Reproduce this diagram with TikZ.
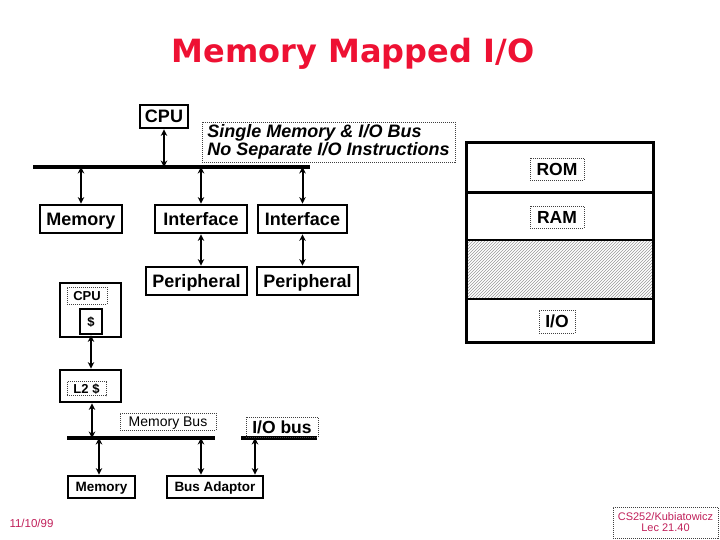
\documentclass[tikz,border=0pt]{standalone}
\usepackage{fontspec}
\setmainfont{Liberation Sans}
\newfontfamily\titlefont{DejaVu Sans}
\usetikzlibrary{arrows.meta,patterns}
\definecolor{titlered}{HTML}{EE1133}
\definecolor{footred}{HTML}{C0205A}
\newcommand{\fs}[1]{\fontsize{#1}{#1}\selectfont}
\tikzset{
  thickbox/.style={draw, line width=2.8pt, inner sep=0pt, font=\bfseries\fs{18}, text height=13pt, text depth=0pt},
  smallbox/.style={thickbox, font=\bfseries\fs{13.5}, text height=9.7pt},
  dotbox/.style={draw=black!75, line width=0.8pt, dash pattern=on 1pt off 1pt, inner sep=0pt},
  caplbl/.style={dotbox, font=\bfseries\fs{17.5}, text height=12.6pt, text depth=0pt},
  smalllbl/.style={dotbox, font=\bfseries\fs{13}, text height=9.4pt, text depth=0pt},
  busline/.style={line width=4pt},
  arr/.style={{Stealth[length=6.5pt,width=6.5pt]}-{Stealth[length=6.5pt,width=6.5pt]}, line width=2pt},
}
\begin{document}
\begin{tikzpicture}[x=1pt,y=-1pt]
\useasboundingbox (0,0) rectangle (720,540);
% title
\node[font=\titlefont\bfseries\fs{32}, text=titlered] (title) at (353,54) {Memory Mapped I/O};

% top bus
\coordinate (busL) at (33,167);
\coordinate (busR) at (310,167);
\draw[busline] (busL) -- (busR);

\node[thickbox, minimum width=48pt, minimum height=23pt] (cpu) at (164,116.5) {CPU};
\node[dotbox, minimum width=253pt, minimum height=40pt, align=left, font=\bfseries\itshape\fs{18}] (lbl) at (328.5,142) {Single Memory \& I/O Bus\\No Separate I/O Instructions};

\node[thickbox, minimum width=82pt, minimum height=28pt] (mem) at (81,219) {Memory};
\node[thickbox, minimum width=92pt, minimum height=28pt] (if1) at (201,219) {Interface};
\node[thickbox, minimum width=89pt, minimum height=28pt] (if2) at (302.5,219) {Interface};
\node[thickbox, minimum width=101pt, minimum height=28pt] (per1) at (196.5,281) {Peripheral};
\node[thickbox, minimum width=101pt, minimum height=28pt] (per2) at (307.5,281) {Peripheral};

\draw[arr] (cpu.south) -- (cpu.south |- busL);
\draw[arr] (mem.north) -- (mem.north |- busL);
\draw[arr] (if1.north) -- (if1.north |- busL);
\draw[arr] (if2.north) -- (if2.north |- busL);
\draw[arr] (per1.north -| if1.south) -- (if1.south);
\draw[arr] (per2.north -| if2.south) -- (if2.south);

% CPU with cache
\node[thickbox, minimum width=61pt, minimum height=54pt] (cpu2) at (90.5,310) {};
\node[smalllbl, minimum width=40pt, minimum height=17pt] (cpulbl) at (87,295.5) {CPU};
\node[thickbox, minimum width=22pt, minimum height=25pt, font=\bfseries\fs{13}, text height=9.4pt] (dollar) at (91,321.5) {\$};

\node[thickbox, minimum width=61pt, minimum height=32pt] (l2) at (90.5,386) {};
\node[smalllbl, minimum width=39pt, minimum height=14pt] (l2lbl) at (86.5,388.5) {L2 \$};

\draw[arr] (dollar.south) -- (l2.north -| dollar.south);

% memory bus and I/O bus
\coordinate (mbL) at (67,438);
\coordinate (mbR) at (215,438);
\coordinate (ibL) at (241,438);
\coordinate (ibR) at (317,438);
\draw[busline] (mbL) -- (mbR);
\draw[busline] (ibL) -- (ibR);
\node[dotbox, minimum width=96pt, minimum height=17pt, font=\fs{14}, text height=10pt, text depth=0pt] (mblbl) at (168,421.5) {Memory Bus};
\node[caplbl, minimum width=72pt, minimum height=20pt] (iblbl) at (282,427) {I/O bus};

\node[smallbox, minimum width=67pt, minimum height=22pt] (mem2) at (101.5,487) {Memory};
\node[smallbox, minimum width=96pt, minimum height=22pt] (busad) at (215,487) {Bus Adaptor};

\coordinate (a1) at (92,438);
\draw[arr] (l2.south -| a1) -- (a1);
\coordinate (a2) at (99,438);
\draw[arr] (a2) -- (mem2.north -| a2);
\coordinate (a3) at (201,438);
\draw[arr] (a3) -- (busad.north -| a3);
\coordinate (a4) at (255,438);
\draw[arr] (a4) -- (busad.north -| a4);

% memory map
\fill[pattern=north east lines, pattern color=black!40] (467,240) rectangle (652,299);
\draw[line width=1.5pt] (466,240) -- (653,240);
\draw[line width=1.5pt] (466,299) -- (653,299);
\draw[line width=3pt] (466,193) -- (653,193);
\draw[line width=3pt] (466,143) rectangle (653,342);
\node[caplbl, minimum width=54pt, minimum height=22pt] (rom) at (557,169) {ROM};
\node[caplbl, minimum width=54pt, minimum height=22pt] (ram) at (557,217) {RAM};
\node[caplbl, minimum width=36pt, minimum height=23pt] (io) at (557,321.5) {I/O};

% footer
\node[font=\fs{11.5}, text=footred, anchor=west] (date) at (6,523) {11/10/99};
\node[dotbox, minimum width=105pt, minimum height=31pt, align=center, font=\fs{11}, text=footred] (foot) at (665.5,522.5) {CS252/Kubiatowicz\\Lec 21.40};
\end{tikzpicture}
\end{document}
